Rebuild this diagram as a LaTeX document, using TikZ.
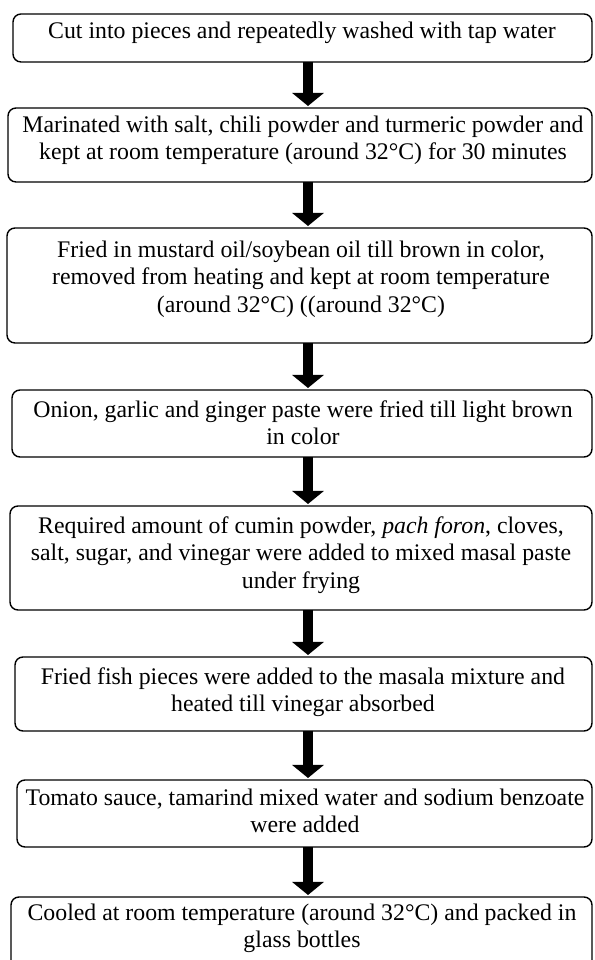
\documentclass[tikz,border=0pt]{standalone}
\usepackage{fontspec}
\setmainfont{Liberation Serif}
\usetikzlibrary{arrows.meta}
\tikzset{
  stepbox/.style={draw=black, line width=1.4pt, rounded corners=8pt, inner sep=0pt, outer sep=0pt, rectangle},
  steptext/.style={align=center, font=\fontsize{23.8}{27.5}\selectfont, inner sep=0pt},
  blockarrow/.style={line width=10pt, -{Triangle[width=31pt,length=13pt]}, shorten >=2pt}
}
\begin{document}
\begin{tikzpicture}[x=1pt,y=1pt]
\clip (0,0) rectangle (594,960);
\fill[white] (0,0) rectangle (594,960);
% boxes (y = 960 - pixel row)
\node[stepbox, minimum width=579pt, minimum height=48pt]  (b1) at (302.5,922) {};
\node[stepbox, minimum width=584pt, minimum height=74pt]  (b2) at (300,815) {};
\node[stepbox, minimum width=585pt, minimum height=115pt] (b3) at (299.5,674.5) {};
\node[stepbox, minimum width=580pt, minimum height=67pt]  (b4) at (302,536.5) {};
\node[stepbox, minimum width=582pt, minimum height=104pt] (b5) at (301,402) {};
\node[stepbox, minimum width=577pt, minimum height=74pt]  (b6) at (303.5,266) {};
\node[stepbox, minimum width=575pt, minimum height=67pt]  (b7) at (304.5,146.5) {};
\node[stepbox, minimum width=581pt, minimum height=73pt]  (b8) at (301.5,26.5) {};
\coordinate (ax) at (308,0);
% texts
\node[steptext] (t1) at (302,927) {Cut into pieces and repeatedly washed with tap water};
\node[steptext] (t2) at (303,819.5) {Marinated with salt, chili powder and turmeric powder and\\kept at room temperature (around 32°C) for 30 minutes};
\node[steptext] (t3) at (301,681) {Fried in mustard oil/soybean oil till brown in color,\\removed from heating and kept at room temperature\\(around 32°C) ((around 32°C)};
\node[steptext] (t4) at (303,537.5) {Onion, garlic and ginger paste were fried till light brown\\in color};
\node[steptext] (t5) at (301,405) {Required amount of cumin powder, \textit{pach foron}, cloves,\\salt, sugar, and vinegar were added to mixed masal paste\\under frying};
\node[steptext] (t6) at (303,268) {Fried fish pieces were added to the masala mixture and\\heated till vinegar absorbed};
\node[steptext] (t7) at (305,149) {Tomato sauce, tamarind mixed water and sodium benzoate\\were added};
\node[steptext] (t8) at (302,31.5) {Cooled at room temperature (around 32°C) and packed in\\glass bottles};
% arrows
\draw[blockarrow] (b1.south -| ax) -- (b2.north -| ax);
\draw[blockarrow] (b2.south -| ax) -- (b3.north -| ax);
\draw[blockarrow] (b3.south -| ax) -- (b4.north -| ax);
\draw[blockarrow] (b4.south -| ax) -- (b5.north -| ax);
\draw[blockarrow] (b5.south -| ax) -- (b6.north -| ax);
\draw[blockarrow] (b6.south -| ax) -- (b7.north -| ax);
\draw[blockarrow] (b7.south -| ax) -- (b8.north -| ax);
\end{tikzpicture}
\end{document}
